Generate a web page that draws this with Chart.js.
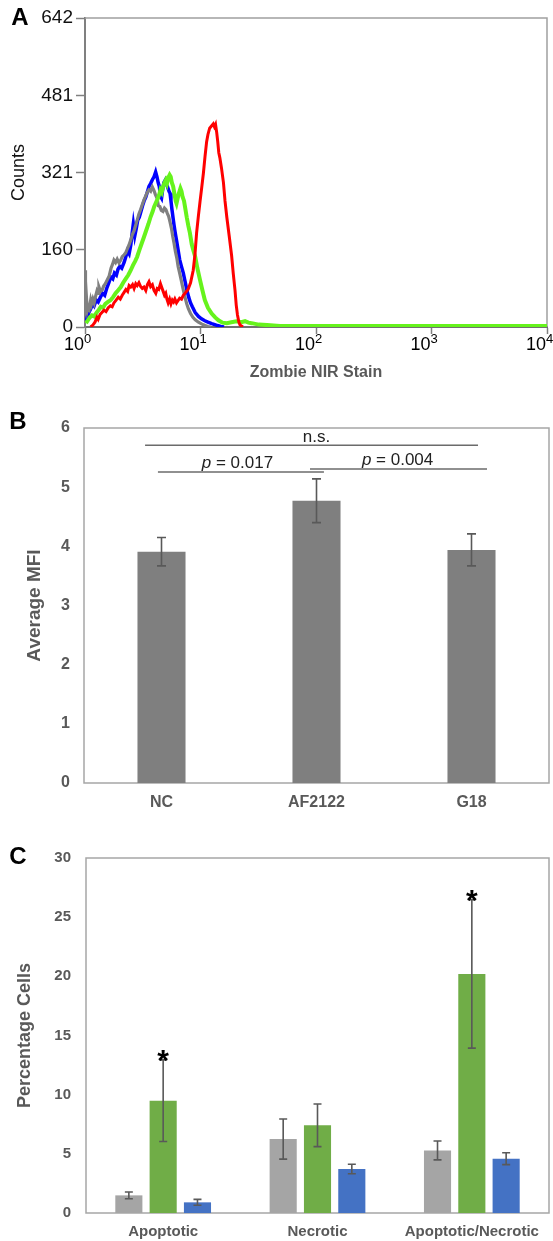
<!DOCTYPE html>
<html>
<head>
<meta charset="utf-8">
<script src="https://cdn.jsdelivr.net/npm/chart.js@4.4.0/dist/chart.umd.min.js"></script>
<style>
  body { margin: 0; background: #fff; width: 553px; height: 1241px; position: relative; overflow: hidden; }
  canvas { position: absolute; left: 0; }
</style>
</head>
<body>
<canvas id="histA" width="553" height="395" style="top:0px"></canvas>
<canvas id="barB" width="553" height="425" style="top:395px"></canvas>
<canvas id="barC" width="553" height="421" style="top:820px"></canvas>
<script>
// ---- panel A: Zombie NIR histograms, [stain intensity, counts]
const histRed = [[1.12,0],[1.17,4],[1.22,10],[1.27,20],[1.3,16],[1.35,26],[1.4,30],[1.46,35],[1.52,32],[1.59,40],[1.66,44],[1.72,42],[1.78,50],[1.86,56],[1.94,62],[2.02,58],[2.1,66],[2.18,72],[2.26,78],[2.34,74],[2.41,86],[2.49,83],[2.58,88],[2.66,80],[2.75,90],[2.83,86],[2.93,92],[3.03,84],[3.13,80],[3.24,83],[3.36,76],[3.47,88],[3.58,94],[3.7,84],[3.83,88],[3.96,76],[4.1,70],[4.22,80],[4.35,78],[4.5,90],[4.62,82],[4.75,74],[4.88,66],[5.0,70],[5.12,58],[5.25,50],[5.4,58],[5.55,48],[5.7,56],[5.85,52],[6.0,58],[6.2,50],[6.4,55],[6.6,60],[6.85,58],[7.1,66],[7.45,72],[7.8,78],[8.2,92],[8.65,118],[8.95,150],[9.25,195],[9.6,232],[9.9,260],[10.25,290],[10.6,320],[10.95,355],[11.3,385],[11.6,400],[12.0,413],[12.5,418],[12.9,422],[13.2,416],[13.5,421],[13.8,405],[14.1,385],[14.4,362],[14.7,352],[15.2,330],[15.8,300],[16.3,262],[16.9,228],[17.7,190],[18.6,148],[19.2,112],[19.9,76],[20.4,45],[20.9,25],[21.5,10],[22.0,4],[23.3,0]];
const histGreen = [[1.02,8],[1.06,14],[1.1,20],[1.15,24],[1.2,22],[1.26,30],[1.32,36],[1.37,42],[1.43,40],[1.5,48],[1.58,52],[1.67,56],[1.75,62],[1.84,70],[1.93,76],[2.04,83],[2.14,92],[2.25,100],[2.37,108],[2.49,118],[2.6,128],[2.72,137],[2.83,146],[2.96,160],[3.1,174],[3.24,187],[3.38,200],[3.54,214],[3.7,229],[3.85,240],[3.97,250],[4.09,257],[4.25,266],[4.4,276],[4.5,285],[4.62,280],[4.75,292],[4.88,300],[5.0,305],[5.12,298],[5.25,310],[5.4,316],[5.52,312],[5.65,300],[5.8,292],[5.95,276],[6.1,262],[6.2,257],[6.35,268],[6.5,278],[6.7,288],[6.85,282],[7.0,270],[7.2,262],[7.4,245],[7.6,228],[7.85,210],[8.1,195],[8.4,172],[8.7,158],[9.0,146],[9.4,122],[9.9,98],[10.4,76],[10.9,56],[11.6,40],[12.5,28],[13.4,20],[14.3,14],[15.5,9],[16.9,8],[18.5,10],[20.5,12],[22.5,10],[24.3,12],[26,9],[27.7,8],[32,5],[37.7,4],[48.8,2],[70,2],[10000,2]];
const histGray = [[1.0,118],[1.01,95],[1.03,60],[1.05,35],[1.07,42],[1.09,38],[1.12,56],[1.14,48],[1.17,58],[1.2,50],[1.23,62],[1.27,75],[1.3,70],[1.32,83],[1.36,74],[1.41,77],[1.45,85],[1.5,90],[1.56,98],[1.62,106],[1.68,122],[1.73,130],[1.78,139],[1.84,134],[1.9,141],[1.97,133],[2.04,139],[2.1,146],[2.18,150],[2.25,154],[2.32,162],[2.4,170],[2.49,181],[2.57,192],[2.66,200],[2.75,212],[2.83,222],[2.93,235],[3.03,244],[3.13,254],[3.24,264],[3.35,272],[3.46,280],[3.58,285],[3.7,282],[3.83,291],[3.95,284],[4.07,275],[4.2,268],[4.32,252],[4.45,250],[4.58,242],[4.73,240],[4.88,247],[5.02,244],[5.16,236],[5.3,230],[5.45,218],[5.6,205],[5.75,188],[5.9,174],[6.05,158],[6.25,142],[6.4,126],[6.6,112],[6.8,98],[7.05,80],[7.3,64],[7.6,48],[7.85,38],[8.2,28],[8.6,20],[9.0,15],[9.6,10],[10.3,6],[11.0,3],[11.6,1],[12.3,0]];
const histBlue = [[1.02,10],[1.05,22],[1.08,30],[1.12,38],[1.17,48],[1.2,44],[1.25,56],[1.3,52],[1.36,62],[1.42,70],[1.48,66],[1.55,82],[1.61,92],[1.67,104],[1.74,100],[1.8,112],[1.87,108],[1.93,120],[2.0,126],[2.08,122],[2.18,134],[2.25,145],[2.33,158],[2.41,152],[2.49,170],[2.56,195],[2.62,214],[2.7,190],[2.78,205],[2.86,222],[2.95,228],[3.05,240],[3.15,252],[3.25,262],[3.36,270],[3.46,280],[3.58,292],[3.7,298],[3.83,306],[3.96,312],[4.09,322],[4.2,312],[4.3,300],[4.4,292],[4.5,272],[4.6,268],[4.7,285],[4.82,300],[4.95,305],[5.08,296],[5.2,290],[5.34,282],[5.45,278],[5.55,262],[5.66,244],[5.8,225],[5.9,212],[6.02,198],[6.2,180],[6.4,160],[6.6,140],[6.8,128],[7.1,112],[7.35,95],[7.6,78],[7.9,62],[8.2,50],[8.5,42],[9.0,30],[9.6,22],[10.2,17],[10.9,13],[11.6,10],[12.5,7],[13.3,5],[14,3],[15,1],[16,0]];
const countTicks = [0, 160, 321, 481, 642];
const stainTicks = [1, 10, 100, 1000, 10000];

// ---- panel B: average MFI
const mfiGroups = ['NC', 'AF2122', 'G18'];
const mfiMean = [3.91, 4.77, 3.94];
const mfiErr = [0.24, 0.37, 0.27];
// significance lines: from/to in category index, y in MFI units
const mfiBrackets = [
  { from: -0.106, to: 2.042, y: 5.71, at: 1.0, label: 'n.s.' },
  { from: -0.023, to: 1.048, y: 5.256, at: 0.49, label: '0.017', italicP: true },
  { from: 0.958, to: 2.1, y: 5.307, at: 1.523, label: '0.004', italicP: true }
];

// ---- panel C: percentage cells
const cellGroups = ['Apoptotic', 'Necrotic', 'Apoptotic/Necrotic'];
const cellGrey = [1.49, 6.25, 5.29];
const cellGreyErr = [0.28, 1.7, 0.8];
const cellGreen = [9.49, 7.41, 20.2];
const cellGreenErr = [3.45, 1.8, 6.27];
const cellBlue = [0.9, 3.72, 4.59];
const cellBlueErr = [0.25, 0.4, 0.5];
const cellStars = ['*', '', '*'];

const FONT = '"Liberation Sans", Arial, sans-serif';
const pts = arr => arr.map(p => ({ x: p[0], y: p[1] }));

const panelLetter = {
  id: 'panelLetter',
  afterDraw(chart, args, opts) {
    const ctx = chart.ctx;
    ctx.save();
    ctx.font = 'bold 24px ' + FONT;
    ctx.fillStyle = '#000';
    ctx.textAlign = 'center';
    ctx.textBaseline = 'middle';
    ctx.fillText(opts.text, opts.x, opts.y);
    ctx.restore();
  }
};

const frame = {
  id: 'frame',
  beforeDatasetsDraw(chart, args, opts) {
    const { left, right, top, bottom } = chart.chartArea;
    const ctx = chart.ctx;
    ctx.save();
    ctx.strokeStyle = opts.color;
    ctx.lineWidth = opts.width;
    ctx.beginPath();
    if (opts.full) {
      ctx.rect(left, top, right - left, bottom - top);
    } else {
      ctx.moveTo(left, top); ctx.lineTo(right, top); ctx.lineTo(right, bottom);
    }
    ctx.stroke();
    ctx.restore();
  }
};

const powerLabels = {
  id: 'powerLabels',
  afterDraw(chart) {
    const x = chart.scales.x, ctx = chart.ctx;
    ctx.save();
    ctx.fillStyle = '#000';
    x.ticks.forEach(t => {
      const px = x.getPixelForValue(t.value);
      const exp = String(Math.round(Math.log10(t.value)));
      ctx.font = '18px ' + FONT;
      ctx.textAlign = 'right';
      ctx.fillText('10', px - 1, 350);
      ctx.font = '13px ' + FONT;
      ctx.textAlign = 'left';
      ctx.fillText(exp, px - 1, 343);
    });
    ctx.restore();
  }
};

const errorBars = {
  id: 'errorBars',
  afterDatasetsDraw(chart, args, opts) {
    const ctx = chart.ctx, y = chart.scales.y;
    chart.data.datasets.forEach((ds, i) => {
      if (!ds.errors) return;
      chart.getDatasetMeta(i).data.forEach((bar, j) => {
        const v = ds.data[j], e = ds.errors[j];
        const top = y.getPixelForValue(v + e), bot = y.getPixelForValue(v - e);
        const w = opts.cap;
        ctx.save();
        ctx.strokeStyle = '#595959';
        ctx.lineWidth = 1.6;
        ctx.beginPath();
        ctx.moveTo(bar.x, top); ctx.lineTo(bar.x, bot);
        ctx.moveTo(bar.x - w, top); ctx.lineTo(bar.x + w, top);
        ctx.moveTo(bar.x - w, bot); ctx.lineTo(bar.x + w, bot);
        ctx.stroke();
        if (ds.stars && ds.stars[j]) {
          ctx.fillStyle = '#000';
          ctx.font = 'bold 30px ' + FONT;
          ctx.textAlign = 'center';
          ctx.textBaseline = 'alphabetic';
          ctx.fillText(ds.stars[j], bar.x, top + 10);
        }
        ctx.restore();
      });
    });
  }
};

const brackets = {
  id: 'brackets',
  afterDatasetsDraw(chart) {
    const ctx = chart.ctx, x = chart.scales.x, y = chart.scales.y;
    ctx.save();
    mfiBrackets.forEach(b => {
      const py = y.getPixelForValue(b.y);
      ctx.strokeStyle = '#6b6b6b';
      ctx.lineWidth = 1.5;
      ctx.beginPath();
      ctx.moveTo(x.getPixelForValue(b.from), py);
      ctx.lineTo(x.getPixelForValue(b.to), py);
      ctx.stroke();
      const cx = x.getPixelForValue(b.at);
      const base = py - (b.italicP ? 4 : 3.5);
      ctx.fillStyle = '#222';
      ctx.textBaseline = 'alphabetic';
      ctx.textAlign = 'left';
      if (b.italicP) {
        ctx.font = 'italic 17px ' + FONT;
        const pw = ctx.measureText('p').width;
        ctx.font = '17px ' + FONT;
        const rest = ' = ' + b.label;
        const rw = ctx.measureText(rest).width;
        const sx = cx - (pw + rw) / 2;
        ctx.font = 'italic 17px ' + FONT;
        ctx.fillText('p', sx, base);
        ctx.font = '17px ' + FONT;
        ctx.fillText(rest, sx + pw, base);
      } else {
        ctx.font = '17px ' + FONT;
        ctx.textAlign = 'center';
        ctx.fillText(b.label, cx, base);
      }
    });
    ctx.restore();
  }
};

// ---------------- Panel A
new Chart(document.getElementById('histA'), {
  type: 'line',
  data: {
    datasets: [
      { data: pts(histRed), borderColor: '#ff0000', borderWidth: 3, order: 1 },
      { data: pts(histGreen), borderColor: '#66f31c', borderWidth: 4, order: 2 },
      { data: pts(histGray), borderColor: '#808080', borderWidth: 3.2, order: 3 },
      { data: pts(histBlue), borderColor: '#0000ff', borderWidth: 3.5, order: 4 }
    ]
  },
  options: {
    responsive: false,
    animation: false,
    elements: { point: { radius: 0 }, line: { tension: 0, fill: false } },
    layout: { padding: { top: 18, right: 6, left: 0, bottom: 0 } },
    plugins: {
      legend: { display: false },
      tooltip: { enabled: false },
      panelLetter: { text: 'A', x: 20, y: 18 },
      frame: { color: '#a0a0a0', width: 1.5, full: false }
    },
    scales: {
      x: {
        type: 'logarithmic', min: 1, max: 10000,
        afterBuildTicks: s => { s.ticks = stainTicks.map(v => ({ value: v })); },
        afterFit: s => { s.height = 68; },
        ticks: { display: false },
        grid: { drawOnChartArea: false, drawTicks: true, tickLength: 7, color: '#808080', tickWidth: 1.5 },
        border: { color: '#707070', width: 2 },
        title: { display: true, text: 'Zombie NIR Stain', color: '#595959', font: { family: FONT, size: 16, weight: 'bold' }, padding: { bottom: 13, top: 0 } }
      },
      y: {
        min: 0, max: 642,
        afterBuildTicks: s => { s.ticks = countTicks.map(v => ({ value: v })); },
        afterFit: s => { s.width = 85; },
        ticks: { color: '#111', font: { family: FONT, size: 19 }, padding: 3, autoSkip: false },
        grid: { drawOnChartArea: false, drawTicks: true, tickLength: 9, color: '#808080', tickWidth: 1.5 },
        border: { color: '#808080', width: 2 },
        title: { display: true, text: 'Counts', color: '#111', font: { family: FONT, size: 18 }, padding: { top: 8, bottom: 0 } }
      }
    }
  },
  plugins: [frame, panelLetter, powerLabels]
});

// ---------------- Panel B
new Chart(document.getElementById('barB'), {
  type: 'bar',
  data: {
    labels: mfiGroups,
    datasets: [{ data: mfiMean, errors: mfiErr, backgroundColor: '#7f7f7f', categoryPercentage: 1, barPercentage: 0.31 }]
  },
  options: {
    responsive: false,
    animation: false,
    layout: { padding: { top: 33, right: 4, left: 0, bottom: 0 } },
    plugins: {
      legend: { display: false },
      tooltip: { enabled: false },
      panelLetter: { text: 'B', x: 18, y: 27 },
      frame: { color: '#a6a6a6', width: 1.5, full: true },
      errorBars: { cap: 4.5 }
    },
    scales: {
      x: {
        afterFit: s => { s.height = 37; },
        ticks: { color: '#595959', font: { family: FONT, size: 16, weight: 'bold' }, padding: 10 },
        grid: { display: false, drawTicks: false },
        border: { display: false }
      },
      y: {
        min: 0, max: 6,
        afterFit: s => { s.width = 84; },
        ticks: { stepSize: 1, color: '#595959', font: { family: FONT, size: 16, weight: 'bold' }, padding: 14 },
        grid: { display: false, drawTicks: false },
        border: { display: false },
        title: { display: true, text: 'Average MFI', color: '#595959', font: { family: FONT, size: 19, weight: 'bold' }, padding: { top: 23, bottom: 0 } }
      }
    }
  },
  plugins: [frame, panelLetter, errorBars, brackets]
});

// ---------------- Panel C
new Chart(document.getElementById('barC'), {
  type: 'bar',
  data: {
    labels: cellGroups,
    datasets: [
      { data: cellGrey, errors: cellGreyErr, backgroundColor: '#a5a5a5' },
      { data: cellGreen, errors: cellGreenErr, stars: cellStars, backgroundColor: '#70ad47' },
      { data: cellBlue, errors: cellBlueErr, backgroundColor: '#4472c4' }
    ]
  },
  options: {
    responsive: false,
    animation: false,
    datasets: { bar: { categoryPercentage: 0.667, barPercentage: 0.79 } },
    layout: { padding: { top: 38, right: 4, left: 0, bottom: 0 } },
    plugins: {
      legend: { display: false },
      tooltip: { enabled: false },
      panelLetter: { text: 'C', x: 18, y: 37 },
      frame: { color: '#a6a6a6', width: 1.5, full: true },
      errorBars: { cap: 4 }
    },
    scales: {
      x: {
        afterFit: s => { s.height = 28; },
        ticks: { color: '#595959', font: { family: FONT, size: 15, weight: 'bold' }, padding: 10 },
        grid: { display: false, drawTicks: false },
        border: { display: false }
      },
      y: {
        min: 0, max: 30,
        afterFit: s => { s.width = 86; },
        ticks: { stepSize: 5, color: '#595959', font: { family: FONT, size: 15, weight: 'bold' }, padding: 15 },
        grid: { display: false, drawTicks: false },
        border: { display: false },
        title: { display: true, text: 'Percentage Cells', color: '#595959', font: { family: FONT, size: 18, weight: 'bold' }, padding: { top: 14, bottom: 0 } }
      }
    }
  },
  plugins: [frame, panelLetter, errorBars]
});
</script>
</body>
</html>
